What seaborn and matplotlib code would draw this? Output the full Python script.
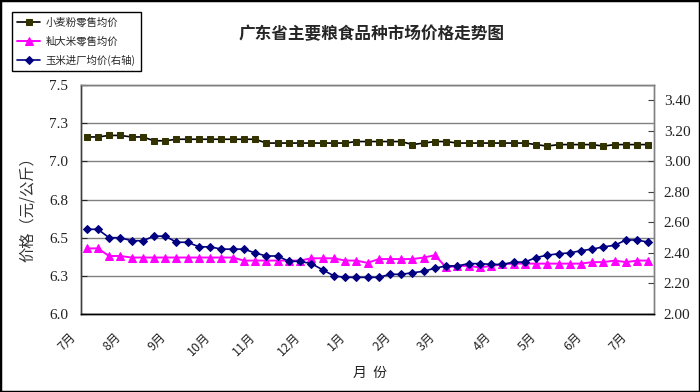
import matplotlib
matplotlib.use("Agg")
import matplotlib.pyplot as plt
import matplotlib.transforms as mtransforms
from matplotlib.patches import Rectangle
import numpy as np
import seaborn as sns

# weekly prices, July -> July
wheat = [7.16, 7.16, 7.17, 7.17, 7.16, 7.16, 7.135, 7.135,
         7.145, 7.145, 7.145, 7.145, 7.145, 7.145, 7.145, 7.145,
         7.12, 7.12, 7.12, 7.12, 7.12, 7.12, 7.12, 7.12,
         7.13, 7.13, 7.13, 7.13, 7.13, 7.11, 7.12, 7.13, 7.13,
         7.12, 7.12, 7.12, 7.12, 7.12, 7.12, 7.12,
         7.11, 7.10, 7.11, 7.11, 7.11, 7.11, 7.10, 7.11, 7.11, 7.11, 7.11]
rice = [6.43, 6.43, 6.38, 6.38,
        6.37, 6.37, 6.37, 6.37, 6.37, 6.37, 6.37, 6.37, 6.37, 6.37,
        6.35, 6.35, 6.35, 6.35, 6.35, 6.35,
        6.365, 6.365, 6.365, 6.35, 6.35, 6.335,
        6.36, 6.36, 6.36, 6.36, 6.37, 6.385,
        6.305, 6.315, 6.315, 6.305, 6.315, 6.325,
        6.33, 6.33, 6.33, 6.33, 6.33, 6.33, 6.33,
        6.34, 6.34, 6.35, 6.34, 6.35, 6.35]
corn = [2.555, 2.555, 2.50, 2.50, 2.48, 2.48, 2.51, 2.51, 2.47, 2.47,
        2.44, 2.44, 2.425, 2.425, 2.425, 2.40, 2.38, 2.38, 2.345, 2.345,
        2.33, 2.29, 2.25, 2.24, 2.24, 2.24, 2.24, 2.26, 2.26, 2.27,
        2.28, 2.30, 2.315, 2.315, 2.33, 2.33, 2.325, 2.325, 2.34, 2.34,
        2.37, 2.385, 2.395, 2.40, 2.415, 2.425, 2.44, 2.45, 2.485, 2.485, 2.47]

month_pos = [0, 4, 8, 12, 16, 20, 24, 28, 32, 37, 41, 45, 49]
month_labels = ['7月', '8月', '9月', '10月', '11月', '12月', '1月',
                '2月', '3月', '4月', '5月', '6月', '7月']
left_ticks = [6.0, 6.25, 6.5, 6.75, 7.0, 7.25, 7.5]
left_labels = ['6.0', '6.3', '6.5', '6.8', '7.0', '7.3', '7.5']
right_ticks = [2.0, 2.2, 2.4, 2.6, 2.8, 3.0, 3.2, 3.4]
right_labels = ['2.00', '2.20', '2.40', '2.60', '2.80', '3.00', '3.20', '3.40']

sns.set_style('white')
plt.rcParams['font.family'] = ['Liberation Serif', 'Noto Sans CJK SC']
plt.rcParams['axes.unicode_minus'] = False

fig = plt.figure(figsize=(7, 3.92), dpi=100)
ax = fig.add_axes([0.1157, 0.199, 0.8186, 0.584])
ax2 = ax.twinx()

x = np.arange(len(wheat))

sns.lineplot(x=x, y=wheat, ax=ax, color='black', lw=1.2, marker='s',
             markersize=4.5, markerfacecolor='#333300', markeredgecolor='#333300',
             label='小麦粉零售均价')
sns.lineplot(x=x, y=rice, ax=ax, color='#FF00FF', lw=1.4, marker='^',
             markersize=5.5, markerfacecolor='#FF00FF', markeredgecolor='#FF00FF',
             label='籼大米零售均价')
sns.lineplot(x=x, y=corn, ax=ax2, color='#000080', lw=1.2, marker='D',
             markersize=4.2, markerfacecolor='#000080', markeredgecolor='#000080',
             label='玉米进厂均价(右轴)')

h1, l1 = ax.get_legend_handles_labels()
h2, l2 = ax2.get_legend_handles_labels()
for a in (ax, ax2):
    if a.get_legend() is not None:
        a.get_legend().remove()

# axes ranges / ticks
ax.set_xlim(-0.5, 50.5)
ax.set_ylim(6.0, 7.5)
ax2.set_ylim(2.0, 3.5)
ax.set_yticks(left_ticks)
ax.set_yticklabels(left_labels)
ax2.set_yticks(right_ticks)
ax2.set_yticklabels(right_labels)

ax.set_xticks(month_pos)
ax.set_xticklabels(month_labels, rotation=45, ha='right', va='top', fontsize=9,
                   family=['Noto Sans CJK SC'])
ax.set_xticks(np.arange(-0.5, 51, 1), minor=True)
ax.tick_params(axis='x', which='major', length=0, pad=12)
ax.tick_params(axis='x', which='minor', direction='in', length=4, width=0.8, color='#404040')
ax.tick_params(axis='y', direction='in', length=4, width=0.8, pad=9, labelsize=11,
               labelcolor='#222222', left=True)
ax2.tick_params(axis='y', direction='in', length=4, width=0.8, pad=7, labelsize=11,
                labelcolor='#222222', right=True, color='#404040')

shift = mtransforms.ScaledTranslation(-8 / 100, 0, fig.dpi_scale_trans)
for lab in ax.get_xticklabels():
    lab.set_transform(lab.get_transform() + shift)

ax.yaxis.grid(True, color='#808080', lw=1)
ax.xaxis.grid(False)
ax2.grid(False)

for a in (ax, ax2):
    a.spines['top'].set_visible(True)
    a.spines['top'].set_color('#808080')
    a.spines['left'].set_color('#404040')
    a.spines['right'].set_color('#808080')
    a.spines['bottom'].set_color('black')
    for s in a.spines.values():
        s.set_linewidth(1)
    a.set_xlabel('')
    a.set_ylabel('')

# texts
fig.text(0.531, 0.913, '广东省主要粮食品种市场价格走势图', ha='center', va='center',
         fontsize=12, fontweight='bold', family=['Noto Sans CJK SC'])
fig.text(0.039, 0.475, '价格（元/公斤）', rotation=90, ha='center', va='center',
         fontsize=11, color='#333333', family=['Noto Sans CJK SC'])
fig.text(0.528, 0.048, '月  份', ha='center', va='center', fontsize=10,
         color='#222222', family=['Noto Sans CJK SC'])

leg = fig.legend(h1 + h2, l1 + l2, loc='upper left', bbox_to_anchor=(0.01, 0.982),
                 frameon=True, fancybox=False, edgecolor='black', framealpha=1,
                 prop={'family': ['Noto Sans CJK SC'], 'size': 7.5},
                 handlelength=2.2, handletextpad=0.5, borderpad=0.5, labelspacing=0.8)
leg.get_frame().set_linewidth(1)

fig.patches.append(Rectangle((0, 0), 1, 1, transform=fig.transFigure, fill=False,
                             lw=2.5, ec='black'))

fig.savefig('out.png', dpi=100)
